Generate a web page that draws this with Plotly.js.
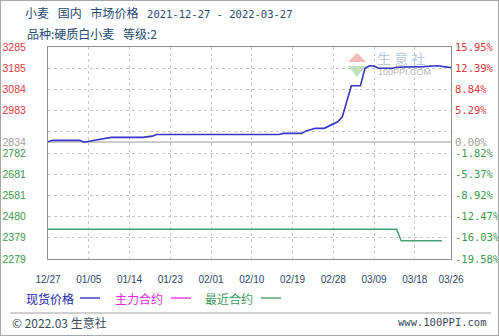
<!DOCTYPE html>
<html>
<head>
<meta charset="utf-8">
<script src="https://cdn.plot.ly/plotly-3.0.1.min.js"></script>
<style>
html,body{margin:0;padding:0;background:#fff;}
#chart{width:499px;height:336px;}
#frame{position:absolute;left:0;top:0;width:499px;height:336px;box-sizing:border-box;border:1px solid #a8a8a8;pointer-events:none;}
</style>
</head>
<body>
<div id="chart"></div>
<div id="frame"></div>
<script>
// ---- data ----
const spotDates = ['2021-12-27','2021-12-28','2022-01-03','2022-01-04','2022-01-06','2022-01-08','2022-01-10','2022-01-17','2022-01-19','2022-01-20','2022-02-16','2022-02-17','2022-02-21','2022-02-22','2022-02-24','2022-02-26','2022-02-28','2022-03-01','2022-03-02','2022-03-04','2022-03-06','2022-03-07','2022-03-08','2022-03-09','2022-03-10','2022-03-13','2022-03-14','2022-03-18','2022-03-20','2022-03-23','2022-03-24','2022-03-26'];
const spotPrices = [2835,2842,2842,2833,2841,2847,2856,2856,2862,2870,2870,2875,2875,2887,2899,2899,2918,2930,2954,3101,3101,3184,3196,3195,3184,3184,3189,3190,3192,3196,3192,3187];

const nearDates = ['2021-12-27','2022-03-14','2022-03-15','2022-03-24'];
const nearPrices = [2420,2420,2366,2366];

const basePrice = 2834;
const yTickVals = [3285,3184.4,3083.8,2983.2,2882.6,2834,2782,2681.4,2580.8,2480.2,2379.6,2279];
const yTickLeft = ['3285','3185','3084','2983','','2834','2782','2681','2581','2480','2379','2279'];
const yTickRight = ['15.95%','12.39%','8.84%','5.29%','','0.00%','-1.82%','-5.37%','-8.92%','-12.47%','-16.03%','-19.58%'];
const xTickVals = ['2021-12-27','2022-01-05','2022-01-14','2022-01-23','2022-02-01','2022-02-10','2022-02-19','2022-02-28','2022-03-09','2022-03-18','2022-03-26'];
const xTickText = ['12/27','01/05','01/14','01/23','02/01','02/10','02/19','02/28','03/09','03/18','03/26'];

const titleWords = ['小麦','国内','市场价格'];
const titleDates = '2021-12-27 - 2022-03-27';
const subTitleA = '品种:硬质白小麦';
const subTitleB = '等级:2';
const legendNames = ['现货价格','主力合约','最近合约'];

// ---- style ----
const RED='#e0383c', GREEN='#3c9a4c', GRAY='#a0a0a0';
function colorFor(v){ if(Math.abs(v-basePrice)<1) return GRAY; return v>basePrice?RED:GREEN; }
const leftText = yTickLeft.map((t,i)=>t?`<span style="color:${colorFor(yTickVals[i])}">${t}</span>`:'');
const rightText = yTickRight.map((t,i)=>t?`<span style="color:${colorFor(yTickVals[i])}">${t}</span>`:'');

// plot area in pixels
const PL=48, PR=451, PT=47, PB=259;
const px = x => (x-PL)/(PR-PL);
const py = y => (PB-y)/(PB-PT);

const CJK = '"Noto Sans CJK SC", sans-serif';
const MONO = '"DejaVu Sans Mono", monospace';
const TXT = '#244a74';
const GAP = '\u2002\u00a0';

const titleText = titleWords.join(GAP) + GAP + `<span style="font-family:'DejaVu Sans Mono';font-size:10.5px">${titleDates}</span>`;

const traces = [
  {x:spotDates, y:spotPrices, type:'scatter', mode:'lines', line:{color:'#3535c8', width:1.6}, hoverinfo:'skip', xaxis:'x', yaxis:'y'},
  {x:nearDates, y:nearPrices, type:'scatter', mode:'lines', line:{color:'#45a173', width:1.5}, hoverinfo:'skip', xaxis:'x', yaxis:'y2'}
];

const legendColors = ['#2424b4','#e42ae4','#3f9a5e'];
const legendX = [24,113,203];
const annotations = [
  {text:subTitleA + GAP + subTitleB, xref:'paper', yref:'paper', x:px(25), y:py(34), xanchor:'left', yanchor:'middle', showarrow:false, font:{family:CJK, size:12, color:TXT}},
  {text:'© 2022.03 生意社', xref:'paper', yref:'paper', x:px(10), y:py(322), xanchor:'left', yanchor:'middle', showarrow:false, font:{family:CJK, size:12, color:'#3a4a5c'}},
  {text:'www.100PPI.com', xref:'paper', yref:'paper', x:px(489), y:py(322), xanchor:'right', yanchor:'middle', showarrow:false, font:{family:MONO, size:10.5, color:'#3a4a5c'}},
  {text:'生 意 社', xref:'paper', yref:'paper', x:px(401), y:py(58), xanchor:'center', yanchor:'middle', showarrow:false, font:{family:CJK, size:14, color:'#b9cadb'}},
  {text:'100PPI.COM', xref:'paper', yref:'paper', x:px(404), y:py(71.5), xanchor:'center', yanchor:'middle', showarrow:false, font:{family:'"Liberation Sans", sans-serif', size:9, color:'#b8b8b8'}}
];
legendNames.forEach((n,i)=>{
  annotations.push({text:n, xref:'paper', yref:'paper', x:px(legendX[i]), y:py(298), xanchor:'left', yanchor:'middle', showarrow:false, font:{family:CJK, size:12, color:legendColors[i]}});
});

const shapes = [
  {type:'line', xref:'paper', yref:'y', x0:0, x1:1, y0:basePrice, y1:basePrice, line:{color:'#9a9a9a', width:1}, layer:'between'},
  {type:'line', xref:'paper', yref:'paper', x0:px(10), x1:px(491), y0:py(313), y1:py(313), line:{color:'#a0a0a0', width:1}},
  {type:'path', xref:'paper', yref:'paper', path:`M ${px(348)} ${py(62)} L ${px(357)} ${py(53)} L ${px(366)} ${py(62)} Z`, fillcolor:'#f3b9b2', line:{width:0}, layer:'below'},
  {type:'path', xref:'paper', yref:'paper', path:`M ${px(348)} ${py(66)} L ${px(357)} ${py(77)} L ${px(366)} ${py(66)} Z`, fillcolor:'#c3e2c3', line:{width:0}, layer:'below'}
];
legendX.forEach((lx,i)=>{
  const x0 = [80,171,261][i];
  shapes.push({type:'line', xref:'paper', yref:'paper', x0:px(x0), x1:px(x0+20), y0:py(298), y1:py(298), line:{color:legendColors[i], width:1.3}});
});

const layout = {
  width:499, height:336,
  margin:{l:PL, r:499-PR, t:PT, b:336-PB, pad:0},
  paper_bgcolor:'#ffffff', plot_bgcolor:'#ffffff',
  showlegend:false,
  title:{text:titleText, xref:'container', yref:'container', x:25/499, y:1-14/336, xanchor:'left', yanchor:'middle', font:{family:CJK, size:12, color:TXT}},
  xaxis:{
    type:'date', range:['2021-12-27','2022-03-26'], tickmode:'array', tickvals:xTickVals, ticktext:xTickText,
    showgrid:true, gridcolor:'#c8c8c8', griddash:'dot', gridwidth:1,
    showline:true, linecolor:'#8e8e8e', linewidth:1, mirror:true, zeroline:false,
    ticks:'', ticklabelstandoff:11,
    tickfont:{family:'"Liberation Sans", Arial, sans-serif', size:10, color:'#2c4868'}, fixedrange:true
  },
  yaxis:{
    range:[2279,3285], tickmode:'array', tickvals:yTickVals, ticktext:leftText,
    showgrid:true, gridcolor:'#c8c8c8', griddash:'dot', gridwidth:1,
    showline:true, linecolor:'#8e8e8e', linewidth:1, mirror:true, zeroline:false,
    ticks:'', ticklabelstandoff:19,
    tickfont:{family:'"Liberation Sans", Arial, sans-serif', size:10.5}, fixedrange:true
  },
  yaxis2:{
    overlaying:'y', side:'right', range:[2279,3285], tickmode:'array', tickvals:yTickVals, ticktext:rightText,
    showgrid:false, showline:false, zeroline:false, ticks:'', ticklabelstandoff:3,
    tickfont:{family:MONO, size:10.5}, fixedrange:true
  },
  annotations:annotations,
  shapes:shapes
};

Plotly.newPlot('chart', traces, layout, {staticPlot:true, displayModeBar:false});
</script>
</body>
</html>
